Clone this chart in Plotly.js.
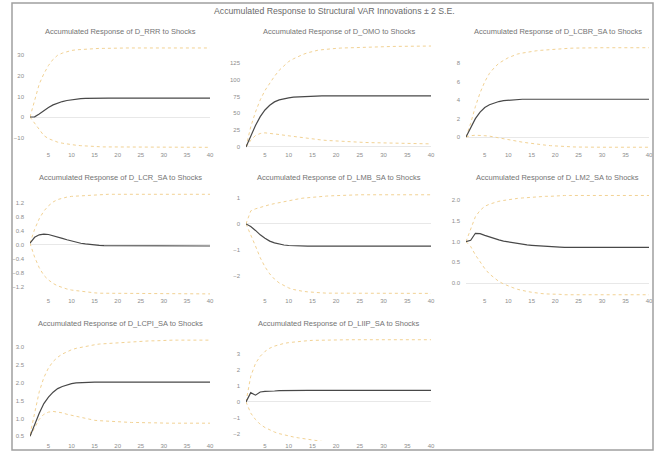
<!DOCTYPE html>
<html>
<head>
<meta charset="utf-8">
<script src="https://cdn.plot.ly/plotly-3.0.1.min.js"></script>
<style>html,body{margin:0;padding:0;background:#fff;}#chart{width:661px;height:452px;}</style>
</head>
<body>
<div id="chart"></div>
<script>
const periods = [1,2,3,4,5,6,7,8,9,10,11,12,13,14,15,16,17,18,19,20,21,22,23,24,25,26,27,28,29,30,31,32,33,34,35,36,37,38,39,40];

const mainTitle = "Accumulated Response to Structural VAR Innovations \u00b1 2 S.E.";
const panelTitles = [
  "Accumulated Response of D_RRR to Shocks",
  "Accumulated Response of D_OMO to Shocks",
  "Accumulated Response of D_LCBR_SA to Shocks",
  "Accumulated Response of D_LCR_SA to Shocks",
  "Accumulated Response of D_LMB_SA to Shocks",
  "Accumulated Response of D_LM2_SA to Shocks",
  "Accumulated Response of D_LCPI_SA to Shocks",
  "Accumulated Response of D_LIIP_SA to Shocks"
];

// D_RRR
const rrrResp  = [0,0.1,1.5,3.2,4.6,5.9,6.8,7.5,8.0,8.4,8.7,8.9,9.0,9.1,9.2,9.2,9.2,9.2,9.2,9.2,9.2,9.2,9.2,9.2,9.2,9.2,9.2,9.2,9.2,9.2,9.2,9.2,9.2,9.2,9.2,9.2,9.2,9.2,9.2,9.2];
const rrrUpper = [0,8,16,21,25,28,30,31,31.8,32.3,32.6,32.8,33.0,33.1,33.2,33.3,33.3,33.4,33.4,33.4,33.5,33.5,33.5,33.5,33.5,33.5,33.5,33.5,33.5,33.5,33.5,33.5,33.5,33.5,33.5,33.5,33.5,33.5,33.5,33.5];
const rrrLower = [0,-3,-6.5,-9,-10.5,-11.5,-12.2,-12.7,-13.1,-13.4,-13.7,-13.9,-14.1,-14.2,-14.3,-14.4,-14.5,-14.5,-14.6,-14.6,-14.7,-14.7,-14.7,-14.7,-14.7,-14.7,-14.7,-14.7,-14.7,-14.7,-14.7,-14.7,-14.7,-14.7,-14.7,-14.7,-14.7,-14.7,-14.7,-14.7];

// D_OMO
const omoResp  = [0,16,32,45,55,62,67,70,72,73,74,74.5,75,75.5,75.8,76,76,76,76,76,76,76,76,76,76,76,76,76,76,76,76,76,76,76,76,76,76,76,76,76];
const omoUpper = [0,30,52,70,84,95,105,114,121,127,131,134.5,137.5,140,142,143.5,144.5,145.5,146,146.5,147,147.3,147.6,147.9,148.2,148.4,148.6,148.8,149,149.2,149.3,149.4,149.5,149.6,149.7,149.8,149.8,149.9,149.9,150];
const omoLower = [0,10,17,20,21,20.5,19.5,18.5,17.5,16.5,15.5,14.5,13.5,12.5,11.7,11,10.3,9.7,9.2,8.7,8.3,7.9,7.6,7.3,7,6.7,6.5,6.3,6.1,5.9,5.7,5.5,5.4,5.2,5.1,5,4.9,4.8,4.7,4.6];

// D_LCBR_SA
const lcbrResp  = [0,1.0,2.0,2.7,3.2,3.5,3.7,3.85,3.95,4.0,4.05,4.08,4.1,4.1,4.1,4.1,4.1,4.1,4.1,4.1,4.1,4.1,4.1,4.1,4.1,4.1,4.1,4.1,4.1,4.1,4.1,4.1,4.1,4.1,4.1,4.1,4.1,4.1,4.1,4.1];
const lcbrUpper = [0,1.5,3.3,4.8,6.0,6.9,7.5,8.0,8.3,8.6,8.8,9.0,9.1,9.2,9.3,9.35,9.4,9.45,9.5,9.55,9.58,9.6,9.62,9.64,9.66,9.68,9.68,9.68,9.68,9.68,9.68,9.68,9.68,9.68,9.68,9.68,9.68,9.68,9.68,9.68];
const lcbrLower = [0,0.15,0.2,0.2,0.15,0.1,0.0,-0.1,-0.15,-0.25,-0.35,-0.45,-0.55,-0.62,-0.7,-0.76,-0.82,-0.88,-0.93,-0.97,-1.0,-1.03,-1.05,-1.07,-1.08,-1.1,-1.1,-1.1,-1.1,-1.1,-1.1,-1.1,-1.1,-1.1,-1.1,-1.1,-1.1,-1.1,-1.1,-1.1];

// D_LCR_SA
const lcrResp  = [0.05,0.22,0.29,0.31,0.3,0.27,0.23,0.19,0.15,0.11,0.08,0.05,0.03,0.01,0.0,-0.01,-0.02,-0.02,-0.03,-0.03,-0.03,-0.03,-0.03,-0.03,-0.03,-0.03,-0.03,-0.03,-0.03,-0.03,-0.03,-0.03,-0.03,-0.03,-0.03,-0.03,-0.03,-0.03,-0.03,-0.03];
const lcrUpper = [0.05,0.45,0.75,0.97,1.12,1.23,1.3,1.34,1.37,1.39,1.4,1.41,1.42,1.43,1.44,1.45,1.45,1.45,1.45,1.45,1.45,1.45,1.45,1.45,1.45,1.45,1.45,1.45,1.45,1.45,1.45,1.45,1.45,1.45,1.45,1.45,1.45,1.45,1.45,1.45];
const lcrLower = [0.05,-0.35,-0.65,-0.87,-1.0,-1.1,-1.17,-1.22,-1.26,-1.29,-1.31,-1.33,-1.35,-1.36,-1.37,-1.38,-1.38,-1.39,-1.39,-1.4,-1.4,-1.4,-1.4,-1.4,-1.4,-1.4,-1.4,-1.4,-1.4,-1.4,-1.4,-1.4,-1.4,-1.4,-1.4,-1.4,-1.4,-1.4,-1.4,-1.4];

// D_LMB_SA
const lmbResp  = [0,-0.1,-0.25,-0.42,-0.55,-0.66,-0.73,-0.78,-0.81,-0.83,-0.84,-0.85,-0.85,-0.85,-0.85,-0.85,-0.85,-0.85,-0.85,-0.85,-0.85,-0.85,-0.85,-0.85,-0.85,-0.85,-0.85,-0.85,-0.85,-0.85,-0.85,-0.85,-0.85,-0.85,-0.85,-0.85,-0.85,-0.85,-0.85,-0.85];
const lmbUpper = [0,0.5,0.58,0.64,0.69,0.74,0.78,0.82,0.86,0.9,0.93,0.96,0.99,1.01,1.03,1.05,1.06,1.07,1.08,1.09,1.1,1.1,1.11,1.11,1.12,1.12,1.12,1.12,1.12,1.12,1.12,1.12,1.12,1.12,1.12,1.12,1.12,1.12,1.12,1.12];
const lmbLower = [0,-0.4,-0.85,-1.3,-1.65,-1.92,-2.12,-2.27,-2.38,-2.46,-2.52,-2.56,-2.59,-2.61,-2.63,-2.64,-2.65,-2.66,-2.66,-2.67,-2.67,-2.67,-2.67,-2.67,-2.67,-2.67,-2.67,-2.67,-2.67,-2.67,-2.67,-2.67,-2.67,-2.67,-2.67,-2.67,-2.67,-2.67,-2.67,-2.67];

// D_LM2_SA
const lm2Resp  = [1.0,1.03,1.2,1.19,1.15,1.11,1.07,1.04,1.01,0.99,0.97,0.95,0.94,0.92,0.91,0.9,0.89,0.88,0.875,0.87,0.865,0.86,0.86,0.86,0.86,0.86,0.86,0.86,0.86,0.86,0.86,0.86,0.86,0.86,0.86,0.86,0.86,0.86,0.86,0.86];
const lm2Upper = [1.0,1.3,1.6,1.75,1.85,1.9,1.94,1.97,1.99,2.01,2.03,2.04,2.05,2.06,2.07,2.08,2.08,2.09,2.09,2.1,2.1,2.11,2.11,2.11,2.11,2.11,2.11,2.11,2.11,2.11,2.11,2.11,2.11,2.11,2.11,2.11,2.11,2.11,2.11,2.11];
const lm2Lower = [1.0,0.88,0.68,0.5,0.35,0.22,0.12,0.04,-0.02,-0.07,-0.11,-0.15,-0.18,-0.2,-0.22,-0.24,-0.25,-0.26,-0.26,-0.27,-0.27,-0.28,-0.28,-0.28,-0.28,-0.28,-0.28,-0.28,-0.28,-0.28,-0.28,-0.28,-0.28,-0.28,-0.28,-0.28,-0.28,-0.28,-0.28,-0.28];

// D_LCPI_SA
const lcpiResp  = [0.5,0.85,1.15,1.42,1.6,1.74,1.84,1.9,1.95,1.98,2.0,2.01,2.02,2.02,2.02,2.02,2.02,2.02,2.02,2.02,2.02,2.02,2.02,2.02,2.02,2.02,2.02,2.02,2.02,2.02,2.02,2.02,2.02,2.02,2.02,2.02,2.02,2.02,2.02,2.02];
const lcpiUpper = [0.55,1.2,1.75,2.15,2.42,2.6,2.72,2.81,2.88,2.93,2.97,3.0,3.03,3.05,3.07,3.09,3.1,3.11,3.12,3.13,3.14,3.15,3.16,3.17,3.17,3.18,3.18,3.18,3.19,3.19,3.2,3.2,3.2,3.2,3.2,3.2,3.2,3.2,3.2,3.2];
const lcpiLower = [0.5,0.75,0.98,1.12,1.18,1.2,1.19,1.16,1.12,1.09,1.05,1.02,0.99,0.97,0.95,0.94,0.93,0.92,0.91,0.9,0.9,0.89,0.89,0.89,0.88,0.88,0.88,0.88,0.87,0.87,0.87,0.87,0.87,0.87,0.87,0.87,0.87,0.87,0.87,0.87];

// D_LIIP_SA
const liipResp  = [0,0.58,0.42,0.62,0.66,0.65,0.68,0.7,0.71,0.72,0.72,0.72,0.72,0.72,0.72,0.72,0.72,0.72,0.72,0.72,0.72,0.72,0.72,0.72,0.72,0.72,0.72,0.72,0.72,0.72,0.72,0.72,0.72,0.72,0.72,0.72,0.72,0.72,0.72,0.72];
const liipUpper = [0,1.6,2.4,2.85,3.15,3.35,3.48,3.58,3.65,3.7,3.74,3.77,3.8,3.82,3.84,3.85,3.86,3.87,3.87,3.88,3.88,3.88,3.88,3.88,3.88,3.88,3.88,3.88,3.88,3.88,3.88,3.88,3.88,3.88,3.88,3.88,3.88,3.88,3.88,3.88];
const liipLower = [0,-0.7,-1.1,-1.4,-1.6,-1.75,-1.88,-1.98,-2.06,-2.13,-2.19,-2.24,-2.29,-2.34,-2.39,-2.44,-2.48,-2.51,-2.53,-2.55,-2.55,-2.55,-2.55,-2.55,-2.55,-2.55,-2.55,-2.55,-2.55,-2.55,-2.55,-2.55,-2.55,-2.55,-2.55,-2.55,-2.55,-2.55,-2.55,-2.55];

// tick labels
const xTicks = [5,10,15,20,25,30,35,40];
const rrrTicks  = [-10,0,10,20,30];
const omoTicks  = [0,25,50,75,100,125];
const lcbrTicks = [0,2,4,6,8];
const lcrTicks  = [-1.2,-0.8,-0.4,0.0,0.4,0.8,1.2];
const lmbTicks  = [-2,-1,0,1];
const lm2Ticks  = [0.0,0.5,1.0,1.5,2.0];
const lcpiTicks = [0.5,1.0,1.5,2.0,2.5,3.0];
const liipTicks = [-2,-1,0,1,2,3];

const panels = [
  {resp: rrrResp,  up: rrrUpper,  lo: rrrLower,  yr: [-16, 36.4],   tv: rrrTicks,  fmt: 'd'},
  {resp: omoResp,  up: omoUpper,  lo: omoLower,  yr: [-4.5, 156],   tv: omoTicks,  fmt: 'd'},
  {resp: lcbrResp, up: lcbrUpper, lo: lcbrLower, yr: [-1.4, 10.3],  tv: lcbrTicks, fmt: 'd'},
  {resp: lcrResp,  up: lcrUpper,  lo: lcrLower,  yr: [-1.46, 1.63], tv: lcrTicks,  fmt: '.1f'},
  {resp: lmbResp,  up: lmbUpper,  lo: lmbLower,  yr: [-2.77, 1.38], tv: lmbTicks,  fmt: 'd'},
  {resp: lm2Resp,  up: lm2Upper,  lo: lm2Lower,  yr: [-0.31, 2.29], tv: lm2Ticks,  fmt: '.1f'},
  {resp: lcpiResp, up: lcpiUpper, lo: lcpiLower, yr: [0.37, 3.4],   tv: lcpiTicks, fmt: '.1f'},
  {resp: liipResp, up: liipUpper, lo: liipLower, yr: [-2.44, 4.3],  tv: liipTicks, fmt: 'd'}
];

const W = 661, H = 452;
const colPx = [[30, 210], [246, 431], [466, 649]];
const rowPx = [[42, 150], [188, 296], [333, 441]];
const titleY = [31, 177, 323];

const bandColor = 'rgb(242,210,148)';
const lineColor = '#484848';
const tickFont = {family: 'Liberation Sans, Arial, sans-serif', size: 6, color: '#8e8e8e'};

const traces = [];
const layout = {
  width: W, height: H,
  margin: {l: 0, r: 0, t: 0, b: 0},
  paper_bgcolor: '#fff', plot_bgcolor: '#fff',
  showlegend: false,
  font: {family: 'Liberation Sans, Arial, sans-serif', color: '#666'},
  annotations: [],
  shapes: [{
    type: 'rect', xref: 'paper', yref: 'paper',
    x0: 12 / W, x1: 653 / W, y0: 1 - 450 / H, y1: 1 - 3 / H,
    line: {color: '#a0a0a0', width: 1.5}, fillcolor: 'rgba(0,0,0,0)'
  }]
};

layout.annotations.push({
  text: mainTitle, xref: 'paper', yref: 'paper',
  x: 335 / W, y: 1 - 11 / H, xanchor: 'center', yanchor: 'middle',
  showarrow: false, font: {size: 8.7, color: '#6a6a6a'}
});

panels.forEach((p, i) => {
  const r = Math.floor(i / 3), c = i % 3;
  const n = i + 1;
  const xa = n === 1 ? 'xaxis' : 'xaxis' + n;
  const ya = n === 1 ? 'yaxis' : 'yaxis' + n;
  const xr = n === 1 ? 'x' : 'x' + n;
  const yr = n === 1 ? 'y' : 'y' + n;
  layout[xa] = {
    domain: [colPx[c][0] / W, colPx[c][1] / W],
    range: [1, 40], anchor: yr,
    tickvals: xTicks, ticks: '', showgrid: false, zeroline: false,
    showline: false, tickfont: tickFont
  };
  layout[ya] = {
    domain: [1 - rowPx[r][1] / H, 1 - rowPx[r][0] / H],
    range: p.yr, anchor: xr, tickvals: p.tv,
    tickformat: p.fmt, ticks: '', showgrid: false,
    zeroline: true, zerolinecolor: '#e8e8e8', zerolinewidth: 1,
    showline: false, tickfont: tickFont, ticklabelstandoff: 5
  };
  traces.push({x: periods, y: p.up, xaxis: xr, yaxis: yr, mode: 'lines',
    line: {color: bandColor, width: 1, dash: 'dot'}, hoverinfo: 'skip'});
  traces.push({x: periods, y: p.lo, xaxis: xr, yaxis: yr, mode: 'lines',
    line: {color: bandColor, width: 1, dash: 'dot'}, hoverinfo: 'skip'});
  traces.push({x: periods, y: p.resp, xaxis: xr, yaxis: yr, mode: 'lines',
    line: {color: lineColor, width: 1.2}, hoverinfo: 'skip'});
  layout.annotations.push({
    text: panelTitles[i], xref: 'paper', yref: 'paper',
    x: ((colPx[c][0] + colPx[c][1]) / 2) / W, y: 1 - titleY[r] / H,
    xanchor: 'center', yanchor: 'middle', showarrow: false,
    font: {size: 7.5, color: '#747474'}
  });
});

Plotly.newPlot('chart', traces, layout, {displayModeBar: false, staticPlot: true});
</script>
</body>
</html>
